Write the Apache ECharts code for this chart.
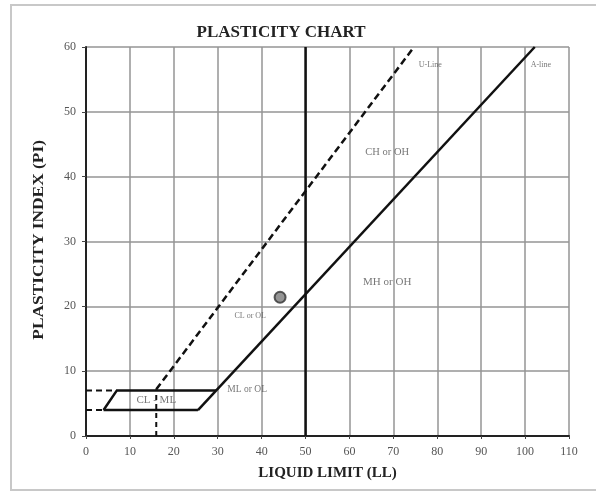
<!DOCTYPE html>
<html>
<head>
<meta charset="utf-8">
<script src="https://cdn.jsdelivr.net/npm/echarts@6/dist/echarts.min.js"></script>
<style>
  html, body { margin: 0; padding: 0; background: #fff; }
  #chart { width: 596px; height: 493px; }
</style>
</head>
<body>
<div id="chart"></div>
<script>
// Axis ticks
const xTicks = [0, 10, 20, 30, 40, 50, 60, 70, 80, 90, 100, 110];
const yTicks = [0, 10, 20, 30, 40, 50, 60];

// Casagrande plasticity chart boundaries (LL, PI)
const aLine = [[25.5, 4], [102.2, 60]];            // PI = 0.73 (LL - 20)
const uLine = [[16, 7.2], [74.7, 60]];             // PI = 0.9 (LL - 8)
const uLineFoot = [[16, 0], [16, 7.2]];
const clmlBottom = [[4, 4], [25.5, 4]];
const clmlTop = [[4, 4], [7, 7], [29.6, 7]];
const clmlLeftLow = [[0, 4], [4, 4]];
const clmlLeftHigh = [[0, 7], [7, 7]];
const llDivider = [[50, 0], [50, 60]];

// Tested sample
const sample = [[44.2, 21.4]];

// Zone names and where they sit
const zoneNames = ['U-Line', 'A-line', 'CH or OH', 'MH or OH', 'CL or OL', 'ML or OL', 'CL - ML'];
const zoneLL = [78.4, 103.6, 68.6, 68.6, 37.4, 36.7, 16];
const zonePI = [57.3, 57.3, 43.7, 23.8, 18.5, 7.1, 5.6];

const serif = '"Liberation Serif", "DejaVu Serif", serif';

// Type size of each zone caption
const zoneFont = {
  'U-Line': 8, 'A-line': 8, 'CH or OH': 10.5, 'MH or OH': 11,
  'CL or OL': 8, 'ML or OL': 9.5, 'CL - ML': 11
};

function seg(data, opts) {
  return Object.assign({
    type: 'line',
    data: data,
    symbol: 'none',
    silent: true,
    animation: false,
    lineStyle: { color: '#111', width: 2.5 }
  }, opts || {});
}

const chart = echarts.init(document.getElementById('chart'), null, { renderer: 'canvas' });

chart.setOption({
  backgroundColor: '#fff',
  animation: false,
  grid: { left: 86, right: 27, top: 47, bottom: 57 },
  title: {
    text: 'PLASTICITY CHART',
    left: 276,
    top: 19,
    textAlign: 'center',
    textStyle: { fontFamily: serif, fontWeight: 'bold', fontSize: 17, color: '#222' }
  },
  graphic: [
    {
      type: 'rect',
      shape: { x: 11, y: 5, width: 620, height: 485 },
      style: { fill: 'none', stroke: '#c8c8c8', lineWidth: 2 },
      silent: true,
      z: -1
    },
    {
      type: 'text',
      left: 32,
      top: 140,
      rotation: Math.PI / 2,
      scaleX: 1.24,
      style: {
        text: 'PLASTICITY INDEX (PI)',
        font: 'bold 14px ' + serif,
        fill: '#222'
      }
    }
  ],
  xAxis: {
    type: 'value',
    min: 0,
    max: 110,
    interval: 10,
    name: 'LIQUID LIMIT (LL)',
    nameLocation: 'middle',
    nameGap: 30,
    nameTextStyle: { fontFamily: serif, fontWeight: 'bold', fontSize: 15, color: '#222' },
    axisLine: { show: true, lineStyle: { color: '#222', width: 2 } },
    axisTick: { show: true, length: 3, lineStyle: { color: '#444' } },
    axisLabel: {
      fontFamily: serif, fontSize: 12, color: '#555', margin: 10,
      formatter: v => xTicks.includes(v) ? String(v) : ''
    },
    splitLine: { show: true, lineStyle: { color: '#959595', width: 1.5 } }
  },
  yAxis: {
    type: 'value',
    min: 0,
    max: 60,
    interval: 10,
    axisLine: { show: true, lineStyle: { color: '#222', width: 2 } },
    axisTick: { show: true, length: 4, lineStyle: { color: '#444' } },
    axisLabel: {
      fontFamily: serif, fontSize: 12, color: '#555', margin: 10,
      formatter: v => yTicks.includes(v) ? String(v) : ''
    },
    splitLine: { show: true, lineStyle: { color: '#959595', width: 1.5 } }
  },
  series: [
    seg(llDivider, { lineStyle: { color: '#111', width: 2.5 } }),
    seg(aLine),
    seg(clmlBottom),
    seg(clmlTop),
    seg(uLine, { lineStyle: { color: '#111', width: 2.5, type: [7, 4] } }),
    seg(uLineFoot, { lineStyle: { color: '#111', width: 2, type: [5, 4] } }),
    seg(clmlLeftLow, { lineStyle: { color: '#111', width: 2, type: [6, 4] } }),
    seg(clmlLeftHigh, { lineStyle: { color: '#111', width: 2, type: [6, 4] } }),
    {
      type: 'scatter',
      data: sample,
      symbol: 'circle',
      symbolSize: 11,
      itemStyle: { color: '#7a7a7a', borderColor: '#333', borderWidth: 2 },
      silent: true,
      z: 5
    },
    {
      type: 'scatter',
      data: zoneNames.map((n, i) => ({
        name: n,
        value: [zoneLL[i], zonePI[i]],
        label: { fontSize: zoneFont[n] }
      })),
      symbolSize: 0,
      silent: true,
      label: {
        show: true,
        position: 'inside',
        formatter: p => p.name,
        fontFamily: serif,
        fontSize: 8,
        color: '#555'
      }
    }
  ]
});
</script>
</body>
</html>
